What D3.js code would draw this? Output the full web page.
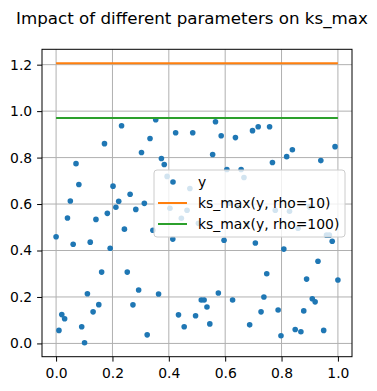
<!DOCTYPE html>
<html>
<head>
<meta charset="utf-8">
<script src="https://cdn.jsdelivr.net/npm/d3@7"></script>
<style>
  body { margin: 0; background: #fff; }
  text { font-family: "DejaVu Sans", sans-serif; }
</style>
</head>
<body>
<svg id="chart"></svg>
<script>
// scatter values, x = linspace(0, 1, 100)
var yValues = [
  0.459, 0.056, 0.124, 0.106, 0.540, 0.613, 0.427, 0.774, 0.684, 0.072,
  0.003, 0.214, 0.436, 0.136, 0.534, 0.167, 0.307, 0.860, 0.560, 0.410,
  0.677, 0.586, 0.612, 0.937, 0.492, 0.307, 0.642, 0.166, 0.577, 0.230,
  0.822, 0.603, 0.037, 0.882, 0.487, 0.963, 0.213, 0.796, 0.770, 0.719,
  0.582, 0.449, 0.907, 0.123, 0.539, 0.072, 0.573, 0.667, 0.907, 0.119,
  0.517, 0.187, 0.187, 0.157, 0.084, 0.813, 0.954, 0.217, 0.894, 0.444,
  0.749, 0.604, 0.187, 0.886, 0.586, 0.749, 0.714, 0.514, 0.080, 0.916,
  0.432, 0.933, 0.136, 0.200, 0.300, 0.933, 0.779, 0.573, 0.144, 0.033,
  0.406, 0.804, 0.569, 0.834, 0.060, 0.496, 0.050, 0.140, 0.277, 0.588,
  0.192, 0.179, 0.354, 0.787, 0.056, 0.466, 0.466, 0.440, 0.847, 0.273
]
var xValues = yValues.map(function (d, i) { return i / (yValues.length - 1) })

var lineNames = ["ks_max(y, rho=10)", "ks_max(y, rho=100)"]
var lineValues = [1.206, 0.970]
var lineColors = ["#ff7f0e", "#2ca02c"]

var xTicks = [0.0, 0.2, 0.4, 0.6, 0.8, 1.0]
var yTicks = [0.0, 0.2, 0.4, 0.6, 0.8, 1.0, 1.2]

var dimensions = {
    width: 377,
    height: 391,
    margin: {
        top: 49.3,
        bottom: 34.3,
        right: 25,
        left: 42
    }
}
dimensions.boundedWidth = dimensions.width - dimensions.margin.left - dimensions.margin.right
dimensions.boundedHeight = dimensions.height - dimensions.margin.top - dimensions.margin.bottom

var svg = d3.select("#chart")
    .attr("width", dimensions.width)
    .attr("height", dimensions.height)

var bounds = svg.append("g")
    .attr("transform", "translate(" + dimensions.margin.left + "," + dimensions.margin.top + ")")

// matplotlib style 5% margins
var yAll = yValues.concat(lineValues)
var yMin = d3.min(yAll), yMax = d3.max(yAll)
var yPad = (yMax - yMin) * 0.05

var xScale = d3.scaleLinear()
    .domain([-0.05, 1.05])
    .range([0, dimensions.boundedWidth])

var yScale = d3.scaleLinear()
    .domain([yMin - yPad, yMax + yPad])
    .range([dimensions.boundedHeight, 0])

// grid
bounds.append("g")
    .selectAll("line")
    .data(xTicks)
    .enter()
    .append("line")
    .attr("x1", d => xScale(d)).attr("x2", d => xScale(d))
    .attr("y1", 0).attr("y2", dimensions.boundedHeight)
    .attr("stroke", "#b0b0b0").attr("stroke-width", 1)

bounds.append("g")
    .selectAll("line")
    .data(yTicks)
    .enter()
    .append("line")
    .attr("y1", d => yScale(d)).attr("y2", d => yScale(d))
    .attr("x1", 0).attr("x2", dimensions.boundedWidth)
    .attr("stroke", "#b0b0b0").attr("stroke-width", 1)

// scatter
bounds.append("g")
    .selectAll("circle")
    .data(yValues)
    .enter()
    .append("circle")
    .attr("cx", (d, i) => xScale(xValues[i]))
    .attr("cy", d => yScale(d))
    .attr("r", 2.8)
    .attr("fill", "#1f77b4")

// horizontal ks_max lines
var line = d3.line()
    .x(d => xScale(d[0]))
    .y(d => yScale(d[1]))

lineValues.forEach(function (v, i) {
    bounds.append("path")
        .datum([[xValues[0], v], [xValues[xValues.length - 1], v]])
        .attr("d", line)
        .attr("fill", "none")
        .attr("stroke", lineColors[i])
        .attr("stroke-width", 2)
})

// axes
var xAxis = bounds.append("g")
    .attr("transform", "translate(0," + dimensions.boundedHeight + ")")
    .call(d3.axisBottom(xScale).tickValues(xTicks).tickFormat(d3.format(".1f")).tickSize(4.9).tickPadding(6.5))
var yAxis = bounds.append("g")
    .call(d3.axisLeft(yScale).tickValues(yTicks).tickFormat(d3.format(".1f")).tickSize(4.9).tickPadding(4.9))

svg.selectAll(".domain").remove()
svg.selectAll(".tick line").attr("stroke", "#000").attr("stroke-width", 1)
svg.selectAll(".tick text")
    .attr("fill", "#000")
    .style("font-size", "13.9px")
    .style("font-family", "DejaVu Sans, sans-serif")

bounds.append("rect")
    .attr("x", 0).attr("y", 0)
    .attr("width", dimensions.boundedWidth)
    .attr("height", dimensions.boundedHeight)
    .attr("fill", "none")
    .attr("stroke", "#000")
    .attr("stroke-width", 1)

// legend
var legend = svg.append("g")
    .attr("transform", "translate(154,170)")

legend.append("rect")
    .attr("width", 191).attr("height", 67)
    .attr("rx", 3).attr("ry", 3)
    .attr("fill", "#fff").attr("fill-opacity", 0.8)
    .attr("stroke", "#cccccc").attr("stroke-width", 1)

legend.append("circle")
    .attr("cx", 19).attr("cy", 12)
    .attr("r", 2.8)
    .attr("fill", "#1f77b4")

legend.append("text")
    .attr("x", 44).attr("y", 17)
    .style("font-size", "13.9px")
    .text("y")

lineNames.forEach(function (name, i) {
    var yy = 33 + i * 21
    legend.append("line")
        .attr("x1", 4).attr("x2", 33)
        .attr("y1", yy).attr("y2", yy)
        .attr("stroke", lineColors[i]).attr("stroke-width", 2)
    legend.append("text")
        .attr("x", 44).attr("y", yy + 5)
        .style("font-size", "13.9px")
        .text(name)
})

// title
svg.append("text")
    .attr("x", 192)
    .attr("y", 24)
    .attr("text-anchor", "middle")
    .style("font-size", "16.7px")
    .text("Impact of different parameters on ks_max")
</script>
</body>
</html>
